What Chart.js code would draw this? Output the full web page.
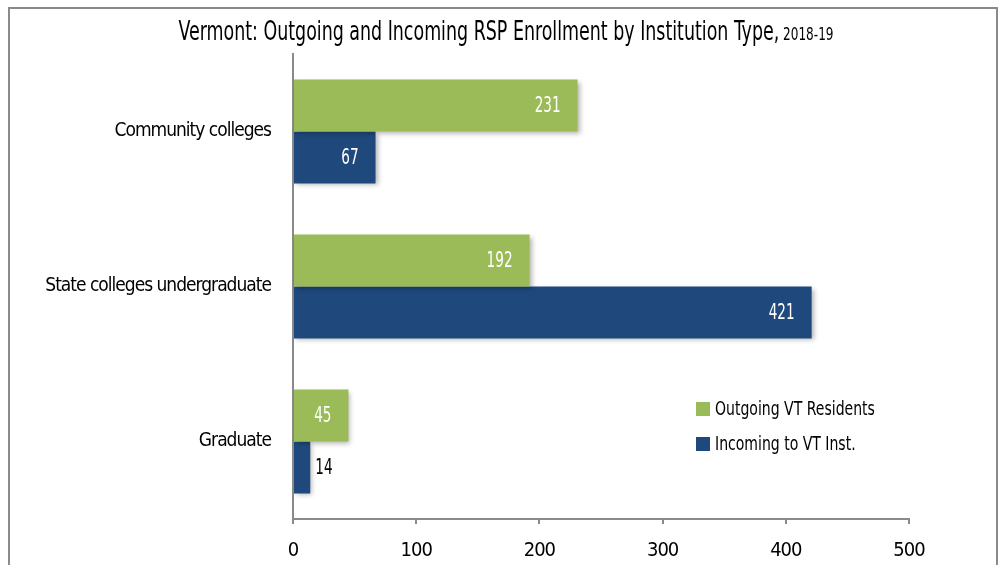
<!DOCTYPE html>
<html>
<head>
<meta charset="utf-8">
<script src="https://cdn.jsdelivr.net/npm/chart.js@4.4.1/dist/chart.umd.min.js"></script>
<style>
  body { margin: 0; overflow: hidden; background: #fff; }
  #wrap { position: relative; width: 1001px; height: 565px; }
  #frame { position: absolute; left: 8px; top: 7px; width: 990px; height: 600px; border: 2px solid #8a8a8a; box-sizing: border-box; }
  canvas { position: absolute; left: 0; top: 0; }
</style>
</head>
<body>
<div id="wrap">
  <div id="frame"></div>
  <canvas id="myChart" width="1001" height="565"></canvas>
</div>
<script>
var categories = ['Community colleges', 'State colleges undergraduate', 'Graduate'];
var outgoing = [231, 192, 45];
var incoming = [67, 421, 14];
var seriesNames = ['Outgoing VT Residents', 'Incoming to VT Inst.'];
var xTicks = [0, 100, 200, 300, 400, 500];

var FONT = '"DejaVu Sans Condensed", "DejaVu Sans", sans-serif';
var green = '#9BBB59';
var blue = '#1F497D';

// the original uses a narrow font, so squeeze text a bit
var squeezePlugin = {
    id: 'squeezePlugin',
    beforeUpdate: function(chart) { chart.ctx.letterSpacing = '-1px'; },
    beforeDraw: function(chart) { chart.ctx.letterSpacing = '-1px'; }
};

// draws text squeezed horizontally
function narrowText(ctx, txt, x, y, sx) {
    ctx.save();
    ctx.letterSpacing = '0px';
    ctx.translate(x, y);
    ctx.scale(sx, 1);
    ctx.fillText(txt, 0, 0);
    ctx.restore();
}

// title with a smaller year part
var titlePlugin = {
    id: 'titlePlugin',
    afterDraw: function(chart) {
        var ctx = chart.ctx;
        ctx.save();
        ctx.letterSpacing = '0px';
        var a = 'Vermont: Outgoing and Incoming RSP Enrollment by Institution Type,';
        var b = ' 2018-19';
        ctx.font = '26px ' + FONT;
        var wa = ctx.measureText(a).width;
        ctx.font = '18px ' + FONT;
        var wb = ctx.measureText(b).width;
        var s = 655 / (wa + wb);
        var x = 506 - 655 / 2;
        ctx.fillStyle = '#000';
        ctx.textBaseline = 'alphabetic';
        ctx.textAlign = 'left';
        ctx.font = '26px ' + FONT;
        narrowText(ctx, a, x, 40, s);
        ctx.font = '18px ' + FONT;
        narrowText(ctx, b, x + wa * s, 40, s);
        ctx.restore();
    }
};

// soft shadow under bars
var shadowPlugin = {
    id: 'shadowPlugin',
    beforeDatasetsDraw: function(chart) {
        var ctx = chart.ctx;
        ctx.save();
        ctx.shadowColor = 'rgba(0,0,0,0.3)';
        ctx.shadowBlur = 5;
        ctx.shadowOffsetX = 2;
        ctx.shadowOffsetY = 2;
    },
    afterDatasetsDraw: function(chart) {
        chart.ctx.restore();
    }
};

// value labels on bars
var labelPlugin = {
    id: 'labelPlugin',
    afterDatasetsDraw: function(chart) {
        var ctx = chart.ctx;
        ctx.save();
        ctx.letterSpacing = '0px';
        ctx.font = '21px ' + FONT;
        ctx.textBaseline = 'middle';
        ctx.textAlign = 'left';
        var sx = 0.72;
        chart.data.datasets.forEach(function(ds, i) {
            var meta = chart.getDatasetMeta(i);
            meta.data.forEach(function(bar, j) {
                var txt = String(ds.data[j]);
                var w = ctx.measureText(txt).width * sx;
                if (bar.x - bar.base > w + 24) {
                    ctx.fillStyle = '#fff';
                    narrowText(ctx, txt, bar.x - 17 - w, bar.y + 1, sx);
                } else {
                    ctx.fillStyle = '#000';
                    narrowText(ctx, txt, bar.x + 5, bar.y + 1, sx);
                }
            });
        });
        ctx.restore();
    }
};

// legend inside plot area
var legendPlugin = {
    id: 'legendPlugin',
    afterDraw: function(chart) {
        var ctx = chart.ctx;
        var area = chart.chartArea;
        var x = area.left + 403;
        var y = area.top + 355;
        ctx.save();
        ctx.letterSpacing = '0px';
        ctx.font = '20px ' + FONT;
        ctx.textBaseline = 'middle';
        ctx.textAlign = 'left';
        var colors = [green, blue];
        seriesNames.forEach(function(name, i) {
            var yy = y + i * 35;
            ctx.fillStyle = colors[i];
            ctx.fillRect(x, yy - 7, 14, 14);
            ctx.fillStyle = '#000';
            narrowText(ctx, name, x + 19, yy + 1, 0.78);
        });
        ctx.restore();
    }
};

const ctx = document.getElementById('myChart');
var myChart = new Chart(ctx, {
    type: 'bar',
    data: {
        labels: categories,
        datasets: [{
            label: seriesNames[0],
            data: outgoing,
            backgroundColor: green,
            borderWidth: 0
        },
        {
            label: seriesNames[1],
            data: incoming,
            backgroundColor: blue,
            borderWidth: 0
        }]
    },
    options: {
        indexAxis: 'y',
        responsive: false,
        animation: false,
        layout: { padding: { top: 54, right: 92, left: 0, bottom: 0 } },
        datasets: { bar: { categoryPercentage: 0.67, barPercentage: 1.0 } },
        plugins: {
            legend: { display: false },
            tooltip: { enabled: false }
        },
        scales: {
            x: {
                min: 0,
                max: 500,
                afterBuildTicks: function(axis) {
                    axis.ticks = xTicks.map(function(v) { return { value: v }; });
                },
                afterFit: function(axis) { axis.height = 46; },
                grid: {
                    display: true,
                    drawOnChartArea: false,
                    drawTicks: true,
                    tickLength: 5,
                    color: '#8a8a8a',
                    lineWidth: 2
                },
                border: { display: true, color: '#8a8a8a', width: 2 },
                ticks: {
                    color: '#000',
                    padding: 15,
                    font: { family: FONT, size: 20 }
                }
            },
            y: {
                afterFit: function(axis) { axis.width = 293; },
                grid: { display: false, drawTicks: false },
                border: { display: true, color: '#8a8a8a', width: 2 },
                ticks: {
                    color: '#000',
                    padding: 22,
                    font: { family: FONT, size: 19 }
                }
            }
        }
    },
    plugins: [squeezePlugin, shadowPlugin, labelPlugin, legendPlugin, titlePlugin]
});
</script>
</body>
</html>
